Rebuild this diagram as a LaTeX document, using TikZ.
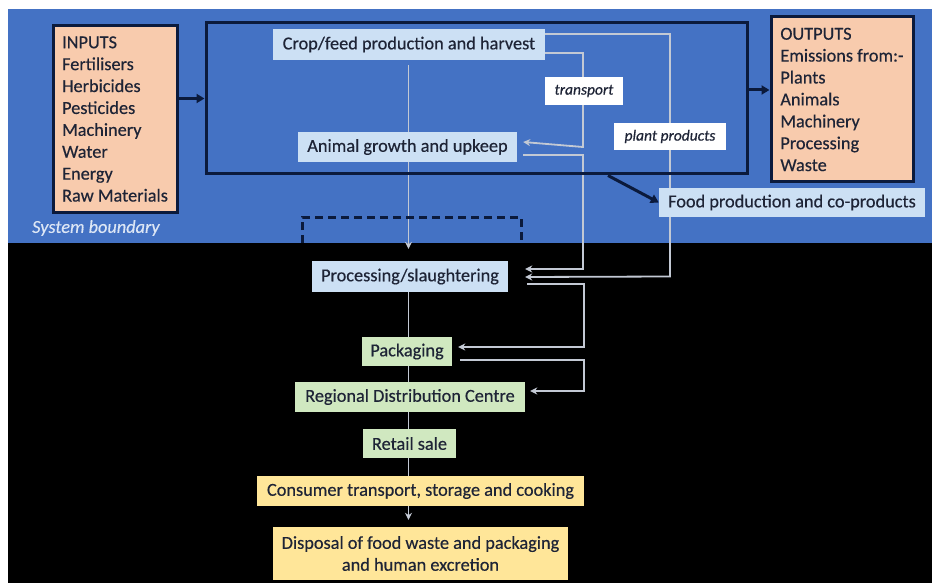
\documentclass[tikz,border=0pt]{standalone}
\usepackage{fontspec}
\setmainfont{Carlito}[FakeBold=0.4]
\usetikzlibrary{arrows.meta,calc}

\definecolor{bgblue}{HTML}{4472C4}
\definecolor{navy}{HTML}{0B1A3C}
\definecolor{peach}{HTML}{F8CBAD}
\definecolor{paleblue}{HTML}{CCE0F4}
\definecolor{palegreen}{HTML}{D0E8C0}
\definecolor{paleyellow}{HTML}{FFE699}
\definecolor{flowgray}{HTML}{C3C9D4}
\definecolor{inktext}{HTML}{1E2436}
\definecolor{boundtext}{HTML}{DCE6F5}

\pgfdeclarelayer{bg}
\pgfdeclarelayer{flows}
\pgfsetlayers{bg,flows,main}

\begin{document}
\begin{tikzpicture}[x=1pt,y=-1pt,
  every node/.style={font=\fontsize{18.3}{21.9}\selectfont, text=inktext, inner sep=0pt},
  listbox/.style={fill=peach, draw=navy, line width=3pt, align=left},
  bluebox/.style={fill=paleblue},
  greenbox/.style={fill=palegreen},
  yellowbox/.style={fill=paleyellow},
  tagbox/.style={fill=white, font=\fontsize{15.5}{18}\selectfont\itshape},
  frame/.style={draw=navy, line width=3pt},
  navyarrow/.style={navy, line width=3pt, -{Triangle[length=8pt,width=9pt]}},
  flow/.style={flowgray, line width=1.8pt},
  flowarrow/.style={flowgray, line width=1.8pt, -{Stealth[length=7pt,width=7pt]}},
]
\useasboundingbox (0,0) rectangle (932,583);

% backdrop: white margin, blue system area, black downstream area
\begin{pgfonlayer}{bg}
  \fill[white] (0,0) rectangle (932,583);
  \fill[bgblue] (8,9) rectangle (932,243);
  \fill[black] (8,243) rectangle (932,583);
\end{pgfonlayer}

% farm stage frame
\node[frame, minimum width=541, minimum height=151] (farm) at (476.5,98.5) {};

% inputs and outputs lists
\node[listbox, minimum width=124, minimum height=186] (inputs) at (115,119)
  {INPUTS\\Fertilisers\\Herbicides\\Pesticides\\Machinery\\Water\\Energy\\Raw Materials};
\node[listbox, minimum width=142, minimum height=165] (outputs) at (842,99.5)
  {OUTPUTS\\Emissions from:-\\Plants\\Animals\\Machinery\\Processing\\Waste};

% supply-chain stages
\node[bluebox, minimum width=272, minimum height=31] (crop) at (409,44.5) {Crop/feed production and harvest};
\node[bluebox, minimum width=219, minimum height=30] (animal) at (407.5,147) {Animal growth and upkeep};
\node[bluebox, minimum width=266, minimum height=29] (food) at (792,202.5) {Food production and co-products};
\node[bluebox, minimum width=196, minimum height=31] (proc) at (410,276.5) {Processing/slaughtering};
\node[greenbox, minimum width=90, minimum height=29] (pack) at (407,351.5) {Packaging};
\node[greenbox, minimum width=230, minimum height=30] (rdc) at (410,397) {Regional Distribution Centre};
\node[greenbox, minimum width=93, minimum height=29] (retail) at (409.5,443.5) {Retail sale};
\node[yellowbox, minimum width=327, minimum height=30] (consumer) at (420.5,491) {Consumer transport, storage and cooking};
\node[yellowbox, minimum width=295, minimum height=53, align=center] (disposal) at (420.5,553.5)
  {Disposal of food waste and packaging\\and human excretion};

% flow labels
\node[tagbox, minimum width=78, minimum height=28] (transport) at (584,91) {transport};
\node[tagbox, minimum width=112, minimum height=27] (plant) at (670,136.5) {plant products};

% system boundary caption
\node[anchor=west, text=boundtext, font=\fontsize{18.3}{20}\selectfont\itshape] (boundary) at (32,228) {System boundary};

% inputs into and emissions out of the farm stage
\draw[navyarrow] (inputs.east |- farm.west) -- (farm.west);
\draw[navyarrow] ([yshift=8.5pt]farm.east) coordinate (emit) -- (emit -| outputs.west);
\draw[navyarrow] ([xshift=131.5pt]farm.south) -- (food.west);

% dashed bracket marking the processing boundary
\draw[navy, line width=3pt, dash pattern=on 8pt off 5pt] (302,243) -- (302,217) -- (521,217) -- (521,243);

\begin{pgfonlayer}{flows}
  % main line through the chain
  \coordinate (axis) at (408.5,0);
  \draw[flowarrow, shorten <=5pt, shorten >=12pt] (crop.south -| axis) -- (proc.north -| axis);
  \draw[flow] (proc.south -| axis) -- (pack.north -| axis);
  \draw[flow] (pack.south -| axis) -- (rdc.north -| axis);
  \draw[flow] (rdc.south -| axis) -- (retail.north -| axis);
  \draw[flow] (retail.south -| axis) -- (consumer.north -| axis);
  \draw[flowarrow, shorten >=7pt] (consumer.south -| axis) -- (disposal.north -| axis);

  % side routes on the right
  \coordinate (colA) at (583,0);
  \coordinate (colB) at (670,0);
  \coordinate (colC) at (584,0);
  % plant products straight to processing
  \draw[flowarrow] ([yshift=10.5pt]crop.east) -| (colB |- proc.east)
    -- ([xshift=17pt,yshift=-0.5pt]proc.east);
  % feed transport from crops to animals
  \draw[flowarrow] ([yshift=-8.5pt]crop.east) -| (colA |- animal.east)
    -- ([xshift=6pt,yshift=5pt]animal.east);
  \draw[flowarrow] ([xshift=6pt,yshift=-8pt]animal.east) -| ([yshift=7.5pt]colA |- proc.east)
    -- ([xshift=17pt,yshift=7.5pt]proc.east);
  % processing to packaging, packaging to distribution
  \draw[flowarrow] ([xshift=19pt,yshift=-7.5pt]proc.east) -| ([yshift=4.5pt]colC |- pack.east)
    -- ([xshift=6pt,yshift=4.5pt]pack.east);
  \draw[flowarrow] ([xshift=8pt,yshift=-8.5pt]pack.east) -| ([yshift=6pt]colC |- rdc.east)
    -- ([xshift=5pt,yshift=6pt]rdc.east);
\end{pgfonlayer}
\end{tikzpicture}
\end{document}
